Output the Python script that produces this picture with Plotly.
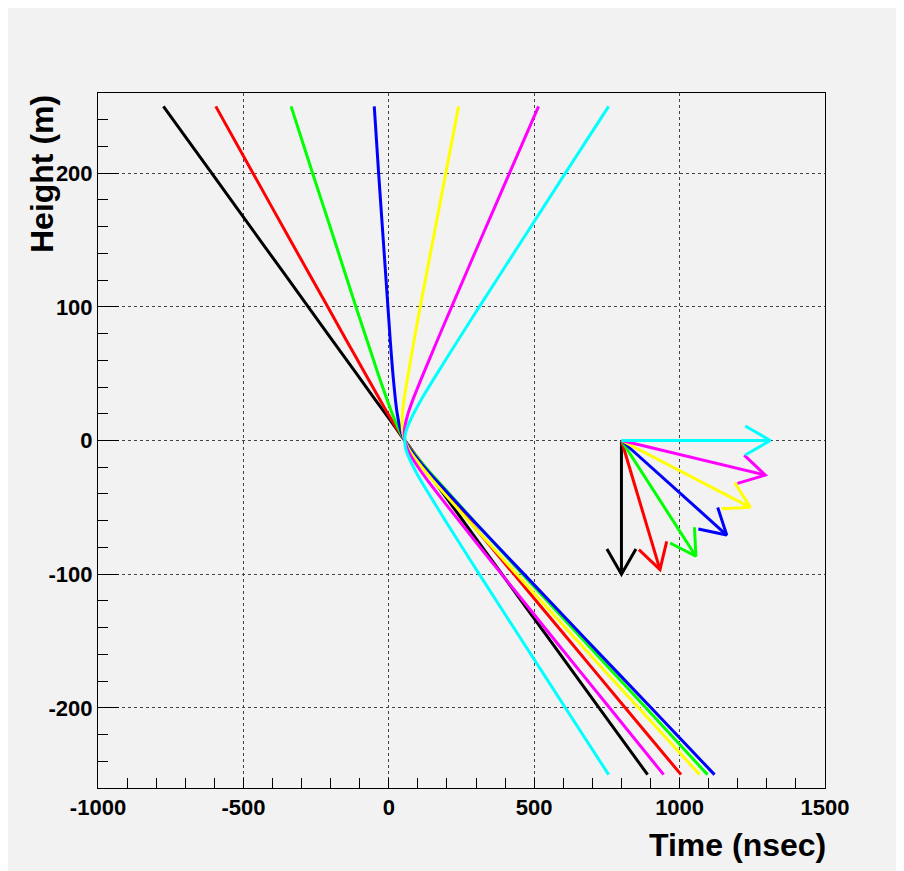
import math
import plotly.graph_objects as go

# ---------------- data ----------------
heights = [250, 200, 150, 100, 75, 50, 30, 20, 10, 5, 0,
           -5, -10, -20, -30, -50, -75, -100, -150, -200, -250]

angles_deg = [0, 15, 30, 45, 60, 75, 90]
colors = ["#000000", "#ff0000", "#00ff00", "#0000ff", "#ffff00", "#ff00ff", "#00ffff"]

time_0deg = [-775, -609, -443, -277, -194, -111, -45, -11, 22, 38, 55,
             72, 88, 122, 155, 222, 305, 389, 556, 723, 890]
time_15deg = [-595, -467, -339, -210, -146, -81, -29, -3, 25, 40, 55,
              72, 89, 125, 163, 239, 334, 430, 622, 813, 1005]
time_30deg = [-336, -262, -187, -113, -75, -37, -5, 12, 31, 42, 55,
              70, 88, 126, 167, 250, 355, 460, 672, 884, 1096]
time_45deg = [-50, -35, -19, -3, 5, 14, 23, 29, 38, 45, 55,
              68, 85, 122, 163, 248, 356, 465, 683, 902, 1120]
time_60deg = [240, 196, 152, 108, 87, 67, 52, 47, 46, 49, 55,
              65, 79, 114, 152, 233, 336, 440, 649, 859, 1069]
time_75deg = [515, 415, 315, 216, 167, 119, 82, 66, 55, 53, 55,
              62, 72, 101, 134, 205, 296, 388, 573, 759, 945]
time_90deg = [756, 607, 459, 311, 238, 166, 110, 85, 64, 57, 55,
              57, 64, 85, 110, 166, 238, 311, 459, 607, 756]

series_times = [time_0deg, time_15deg, time_30deg, time_45deg,
                time_60deg, time_75deg, time_90deg]

x_tick_vals = [-1000, -500, 0, 500, 1000, 1500]
x_tick_text = ["-1000", "-500", "0", "500", "1000", "1500"]
y_tick_vals = [-200, -100, 0, 100, 200]
y_tick_text = ["-200", "-100", "0", "100", "200"]

# direction-arrow legend (origin and length in data units)
arrow_origin = (800, 0)
arrow_len_time = 512
arrow_len_height = 100

# ---------------- layout geometry ----------------
W, H = 904, 871
M_L, M_T = 90, 85
PLOT_W, PLOT_H = 727, 695
M_R = W - M_L - PLOT_W
M_B = H - M_T - PLOT_H
X_RANGE = [-1000, 1500]
Y_RANGE = [-260, 260]
kx = PLOT_W / (X_RANGE[1] - X_RANGE[0])   # px per ns
ky = PLOT_H / (Y_RANGE[1] - Y_RANGE[0])   # px per m

fig = go.Figure()

for ang, col, ts in zip(angles_deg, colors, series_times):
    fig.add_trace(go.Scatter(
        x=ts, y=heights, mode="lines",
        line=dict(color=col, width=3, shape="spline", smoothing=0.6),
        hoverinfo="skip", showlegend=False))

# arrows
HEAD_LEN = 29.0
HEAD_ANG = math.radians(30)
for ang, col in zip(angles_deg, colors):
    th = math.radians(ang)
    x0, y0 = arrow_origin
    x1 = x0 + arrow_len_time * math.sin(th)
    y1 = y0 - arrow_len_height * math.cos(th)
    bx = (x0 - x1) * kx
    by = (y0 - y1) * ky
    n = math.hypot(bx, by)
    bx, by = bx / n, by / n
    wings = []
    for s in (1, -1):
        c, sn = math.cos(s * HEAD_ANG), math.sin(s * HEAD_ANG)
        rx = bx * c - by * sn
        ry = bx * sn + by * c
        wings.append((x1 + rx * HEAD_LEN / kx, y1 + ry * HEAD_LEN / ky))
    fig.add_trace(go.Scatter(
        x=[x0, x1], y=[y0, y1], mode="lines",
        line=dict(color=col, width=3), hoverinfo="skip", showlegend=False))
    fig.add_trace(go.Scatter(
        x=[wings[0][0], x1, wings[1][0]], y=[wings[0][1], y1, wings[1][1]],
        mode="lines", line=dict(color=col, width=3),
        hoverinfo="skip", showlegend=False))

tick_font = dict(family="Liberation Sans, Arial, sans-serif",
                 size=22, color="black", weight="bold")
title_font = dict(family="Liberation Sans, Arial, sans-serif", size=32,
                  color="black", weight="bold")

fig.update_layout(
    width=W, height=H, autosize=False,
    margin=dict(l=M_L, r=M_R, t=M_T, b=M_B, pad=0),
    paper_bgcolor="#f2f2f2", plot_bgcolor="#f2f2f2",
    xaxis=dict(range=X_RANGE, tickvals=x_tick_vals, ticktext=x_tick_text,
               ticks="inside", ticklen=10, tickwidth=1, tickcolor="black",
               showline=True, linecolor="black", linewidth=1, mirror=True,
               showgrid=True, gridcolor="#444444", gridwidth=1, griddash="dot",
               zeroline=False, tickfont=tick_font,
               minor=dict(dtick=100, tick0=0, ticks="inside", ticklen=10,
                          tickwidth=1, tickcolor="black", showgrid=False)),
    yaxis=dict(range=Y_RANGE, tickvals=y_tick_vals, ticktext=y_tick_text,
               ticks="inside", ticklen=21, tickwidth=1, tickcolor="black",
               showline=True, linecolor="black", linewidth=1, mirror=True,
               showgrid=True, gridcolor="#444444", gridwidth=1, griddash="dot",
               zeroline=False, tickfont=tick_font,
               minor=dict(dtick=20, tick0=0, ticks="inside", ticklen=10,
                          tickwidth=1, tickcolor="black", showgrid=False)),
    annotations=[
        dict(text="Time (nsec)", xref="paper", yref="paper", x=1.004, y=-0.082,
             xanchor="right", yanchor="middle", showarrow=False, font=title_font),
        dict(text="Height (m)", xref="paper", yref="paper", x=-0.077, y=1.0,
             xanchor="center", yanchor="top", textangle=-90, showarrow=False,
             font=title_font),
    ],
)

fig.write_html("out.html")
